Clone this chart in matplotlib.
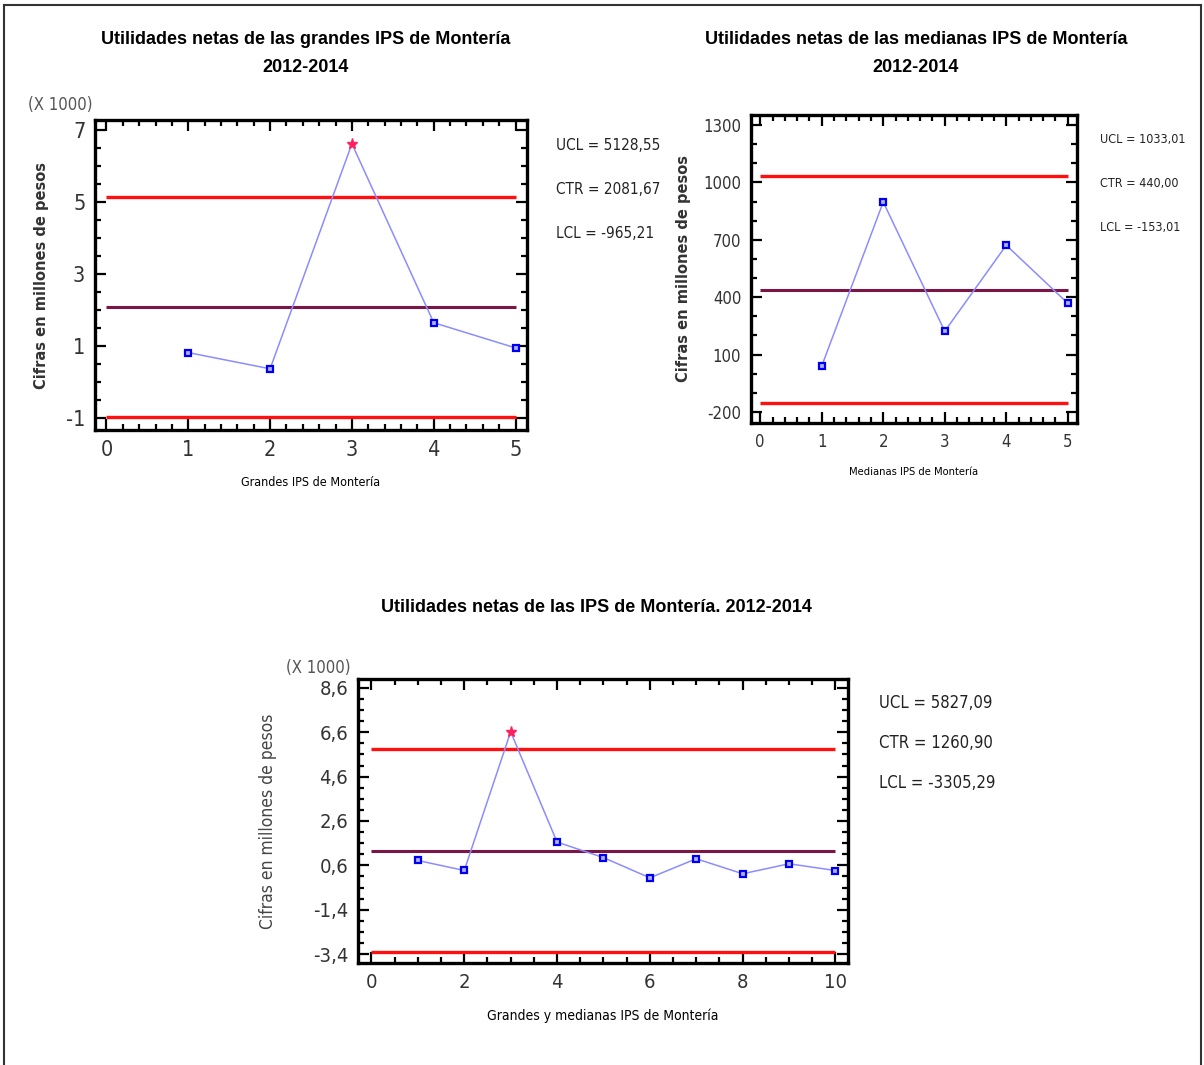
import numpy as np
import matplotlib
matplotlib.use("Agg")
import matplotlib.pyplot as plt
from matplotlib.ticker import FixedLocator, MultipleLocator, FuncFormatter

# Datos (millones de pesos)
grandes = [820, 370, 6620, 1650, 950]
medianas = [40, 898, 222, 672, 368]
todas = grandes + medianas

lim_grandes = {"UCL": 5128.55, "CTR": 2081.67, "LCL": -965.21}
lim_medianas = {"UCL": 1033.01, "CTR": 440.00, "LCL": -153.01}
lim_todas = {"UCL": 5827.09, "CTR": 1260.90, "LCL": -3305.29}

yt_grandes = [-1, 1, 3, 5, 7]
yt_medianas = [-200, 100, 400, 700, 1000, 1300]
yt_todas = [-3.4, -1.4, 0.6, 2.6, 4.6, 6.6, 8.6]

NARROW = dict(family="DejaVu Sans", stretch="condensed")
fig = plt.figure(figsize=(12.04, 10.65), dpi=100)

W, H = 1204, 1065


def px_axes(left, top, right, bottom):
    return fig.add_axes([left / W, 1 - bottom / H, (right - left) / W, (bottom - top) / H])


def coma(v):
    return f"{v:.2f}".replace(".", ",")


def control_chart(ax, valores, lims, escala, xlim, ylim, yticks, yminor, xmajor, xminor,
                  yfmt, tick_size):
    n = len(valores)
    x = np.arange(1, n + 1)
    y = np.array(valores) / escala

    ax.hlines(lims["UCL"] / escala, 0, n, color="#ff1010", lw=2.4, zorder=2)
    ax.hlines(lims["LCL"] / escala, 0, n, color="#ff1010", lw=2.4, zorder=2)
    ax.hlines(lims["CTR"] / escala, 0, n, color="#7a1546", lw=2.2, zorder=2)

    ax.plot(x, y, color="#8c8cff", lw=1.1, zorder=3)
    dentro = (np.array(valores) <= lims["UCL"]) & (np.array(valores) >= lims["LCL"])
    ax.plot(x[dentro], y[dentro], ls="none", marker="s", ms=5, mfc="#b0b0ff",
            mec="#0000ee", mew=1.6, zorder=4)
    ax.plot(x[~dentro], y[~dentro], ls="none", marker="*", ms=8, color="#ff2060", zorder=4)

    ax.set_xlim(*xlim)
    ax.set_ylim(*ylim)
    ax.xaxis.set_major_locator(MultipleLocator(xmajor))
    ax.xaxis.set_minor_locator(MultipleLocator(xminor))
    ax.yaxis.set_major_locator(FixedLocator(yticks))
    ax.yaxis.set_minor_locator(FixedLocator(yminor))
    ax.yaxis.set_major_formatter(FuncFormatter(yfmt))

    ax.tick_params(which="both", direction="in", top=True, right=True, width=1.6,
                   colors="black", labelcolor="#333333")
    ax.tick_params(which="major", length=8, labelsize=tick_size, pad=7)
    ax.tick_params(which="minor", length=4)
    for lab in ax.get_xticklabels() + ax.get_yticklabels():
        lab.set_family(NARROW["family"])
        lab.set_stretch(NARROW["stretch"])
    for sp in ax.spines.values():
        sp.set_linewidth(2.4)


TITLE = dict(family="Liberation Sans", fontsize=13, fontweight="bold", ha="center",
             va="center")

# --- Grandes IPS ---
ax1 = px_axes(95, 120, 527, 430)
control_chart(ax1, grandes, lim_grandes, 1000, (-0.14, 5.14), (-1.33, 7.28),
              yt_grandes, np.arange(-1.0, 7.01, 0.5), 1, 0.2,
              lambda v, p: f"{v:.0f}", 15.5)
ax1.set_xlabel("Grandes IPS de Montería", fontsize=9, labelpad=12, **NARROW)
ax1.set_ylabel("Cifras en millones de pesos", fontsize=10.5, fontweight="bold",
               color="#333333", labelpad=12)
fig.text(60 / W, 1 - 105 / H, "(X 1000)", fontsize=12, color="#555555",
         ha="center", va="center", **NARROW)
fig.text(306 / W, 1 - 40 / H, "Utilidades netas de las grandes IPS de Montería", **TITLE)
fig.text(306 / W, 1 - 68 / H, "2012-2014", **TITLE)
for i, k in enumerate(["UCL", "CTR", "LCL"]):
    fig.text(556 / W, 1 - (145 + 44 * i) / H, f"{k} = {coma(lim_grandes[k])}",
             fontsize=11, color="#222222", ha="left", va="center", **NARROW)

# --- Medianas IPS ---
ax2 = px_axes(751, 115, 1077, 423)
control_chart(ax2, medianas, lim_medianas, 1, (-0.15, 5.15), (-258, 1353),
              yt_medianas, np.arange(-200, 1301, 100), 1, 0.2,
              lambda v, p: f"{v:.0f}", 12)
ax2.set_xlabel("Medianas IPS de Montería", fontsize=8, labelpad=12, **NARROW)
ax2.set_ylabel("Cifras en millones de pesos", fontsize=10.5, fontweight="bold",
               color="#333333", labelpad=9)
fig.text(916 / W, 1 - 40 / H, "Utilidades netas de las medianas IPS de Montería", **TITLE)
fig.text(916 / W, 1 - 68 / H, "2012-2014", **TITLE)
for i, k in enumerate(["UCL", "CTR", "LCL"]):
    fig.text(1100 / W, 1 - (140 + 44 * i) / H, f"{k} = {coma(lim_medianas[k])}",
             fontsize=9, color="#222222", ha="left", va="center", **NARROW)

# --- Todas ---
ax3 = px_axes(358, 679, 848, 963)
control_chart(ax3, todas, lim_todas, 1000, (-0.29, 10.27), (-3.8, 9.0),
              yt_todas, np.arange(-3.4, 8.61, 0.5), 2, 0.5,
              lambda v, p: f"{v:.1f}".replace(".", ","), 14.5)
ax3.set_xlabel("Grandes y medianas IPS de Montería", fontsize=10, labelpad=12, **NARROW)
ax3.set_ylabel("Cifras en millones de pesos", fontsize=12.5, color="#444444",
               labelpad=26, **NARROW)
fig.text(318 / W, 1 - 668 / H, "(X 1000)", fontsize=12, color="#555555",
         ha="center", va="center", **NARROW)
fig.text(596 / W, 1 - 608 / H, "Utilidades netas de las IPS de Montería. 2012-2014",
         **TITLE)
for i, k in enumerate(["UCL", "CTR", "LCL"]):
    fig.text(879 / W, 1 - (703 + 40 * i) / H, f"{k} = {coma(lim_todas[k])}",
             fontsize=12, color="#222222", ha="left", va="center", **NARROW)

# marco exterior
for xs, ys in [([4, 4], [1065, 5]), ([4, 1201], [5, 5]), ([1201, 1201], [5, 1065])]:
    fig.add_artist(plt.Line2D([v / W for v in xs], [1 - v / H for v in ys],
                              color="#333333", lw=1.5, transform=fig.transFigure))

fig.savefig("out.png", dpi=100)
